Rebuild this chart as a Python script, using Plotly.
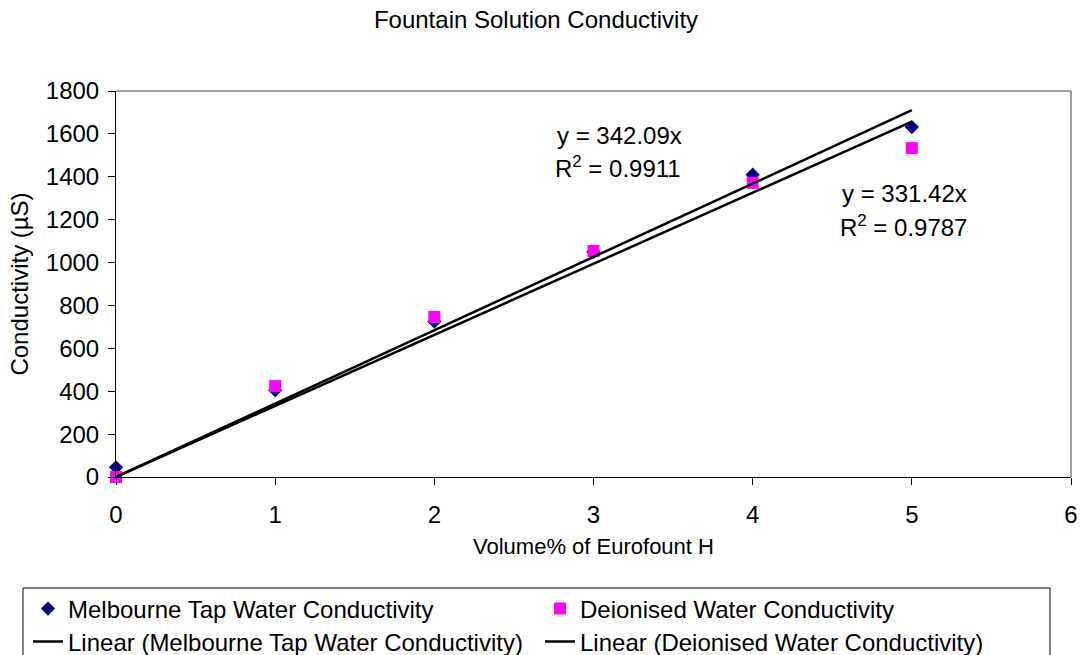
import plotly.graph_objects as go

volume = [0, 1, 2, 3, 4, 5]
tap_water = [45, 405, 725, 1050, 1410, 1632]
deionised = [0, 424, 746, 1054, 1372, 1534]
tap_slope = 342.09
tap_r2 = 0.9911
di_slope = 331.42
di_r2 = 0.9787
fit_x = [0, 5]

FONT = "Liberation Sans, Arial, sans-serif"
W, H = 1082, 655
# plot area in pixels: left 116, right 1071, top 91, bottom 477
L, T = 116, 91
R = W - 1071
B = H - 477
PW, PH = W - L - R, H - T - B


def px2x(px):
    return (px - L) / PW


def py2y(py):
    return (H - B - py) / PH


fig = go.Figure()
fig.add_trace(go.Scatter(
    x=volume, y=tap_water, mode="markers", name="Melbourne Tap Water Conductivity",
    marker=dict(symbol="diamond", size=11, color="#000080"), cliponaxis=False, legend="legend"))
fig.add_trace(go.Scatter(
    x=volume, y=deionised, mode="markers", name="Deionised Water Conductivity",
    marker=dict(symbol="square", size=12, color="#FF00FF"), cliponaxis=False, legend="legend2"))
fig.add_trace(go.Scatter(
    x=fit_x, y=[tap_slope * v for v in fit_x], mode="lines",
    name="Linear (Melbourne Tap Water Conductivity)",
    line=dict(color="black", width=2.5), legend="legend3"))
fig.add_trace(go.Scatter(
    x=fit_x, y=[di_slope * v for v in fit_x], mode="lines",
    name="Linear (Deionised Water Conductivity)",
    line=dict(color="black", width=2.5), legend="legend4"))

leg_common = dict(bgcolor="rgba(0,0,0,0)", borderwidth=0, font=dict(family=FONT, size=24, color="black"),
                  xanchor="left", yanchor="middle")
fig.update_layout(
    legend=dict(x=px2x(28), y=py2y(609), **leg_common),
    legend2=dict(x=px2x(540), y=py2y(609), **leg_common),
    legend3=dict(x=px2x(28), y=py2y(642), **leg_common),
    legend4=dict(x=px2x(540), y=py2y(642), **leg_common),
)

fig.update_layout(
    width=W, height=H,
    margin=dict(l=L, r=R, t=T, b=B, autoexpand=False),
    paper_bgcolor="white", plot_bgcolor="white",
    font=dict(family=FONT, color="black"),
    title=dict(text="Fountain Solution Conductivity", x=536 / W, xanchor="center",
               y=1 - 20 / H, yanchor="middle", font=dict(size=24, family=FONT, color="black")),
    showlegend=True,
)
fig.update_xaxes(range=[0, 6], dtick=1, tick0=0, showgrid=False, zeroline=False,
                 showline=True, linecolor="black", linewidth=1,
                 ticks="outside", ticklen=7, tickcolor="black", ticklabelstandoff=9,
                 tickfont=dict(size=24, family=FONT, color="black"),
                 title=dict(text="Volume% of Eurofount H", font=dict(size=22, family=FONT, color="black"),
                            standoff=11),
                 automargin=False)
fig.update_yaxes(range=[0, 1800], dtick=200, tick0=0, showgrid=False, zeroline=False,
                 showline=True, linecolor="black", linewidth=1,
                 ticks="outside", ticklen=7, tickcolor="black", ticklabelstandoff=4,
                 tickfont=dict(size=24, family=FONT, color="black"),
                 title=dict(text="Conductivity (µS)", font=dict(size=24, family=FONT, color="black"),
                            standoff=10),
                 automargin=False)

# gray top/right plot-area border
fig.add_shape(type="line", xref="paper", yref="paper", x0=0, x1=1, y0=1, y1=1,
              line=dict(color="#808080", width=1.5), layer="below")
fig.add_shape(type="line", xref="paper", yref="paper", x0=1, x1=1, y0=0, y1=1,
              line=dict(color="#808080", width=1.5), layer="below")
# legend box (bottom edge runs off the page, as in the reference)
fig.add_shape(type="rect", xref="paper", yref="paper",
              x0=px2x(23), x1=px2x(1050), y0=py2y(670), y1=py2y(588),
              line=dict(color="black", width=1), fillcolor="rgba(0,0,0,0)")

ann_font = dict(size=24, family=FONT, color="black")
fig.add_annotation(x=px2x(555), y=py2y(135), xref="paper", yref="paper", xanchor="left", yanchor="middle",
                   text=f"y = {tap_slope:.2f}x", showarrow=False, font=ann_font)
fig.add_annotation(x=px2x(553), y=py2y(167), xref="paper", yref="paper", xanchor="left", yanchor="middle",
                   text=f"R<sup>2</sup> = {tap_r2:.4f}", showarrow=False, font=ann_font)
fig.add_annotation(x=px2x(840), y=py2y(193), xref="paper", yref="paper", xanchor="left", yanchor="middle",
                   text=f"y = {di_slope:.2f}x", showarrow=False, font=ann_font)
fig.add_annotation(x=px2x(838), y=py2y(226), xref="paper", yref="paper", xanchor="left", yanchor="middle",
                   text=f"R<sup>2</sup> = {di_r2:.4f}", showarrow=False, font=ann_font)

fig.write_html(
    "out.html",
    config={"displayModeBar": False},
    post_script="document.body.style.margin='0';document.body.style.overflow='hidden';",
)
